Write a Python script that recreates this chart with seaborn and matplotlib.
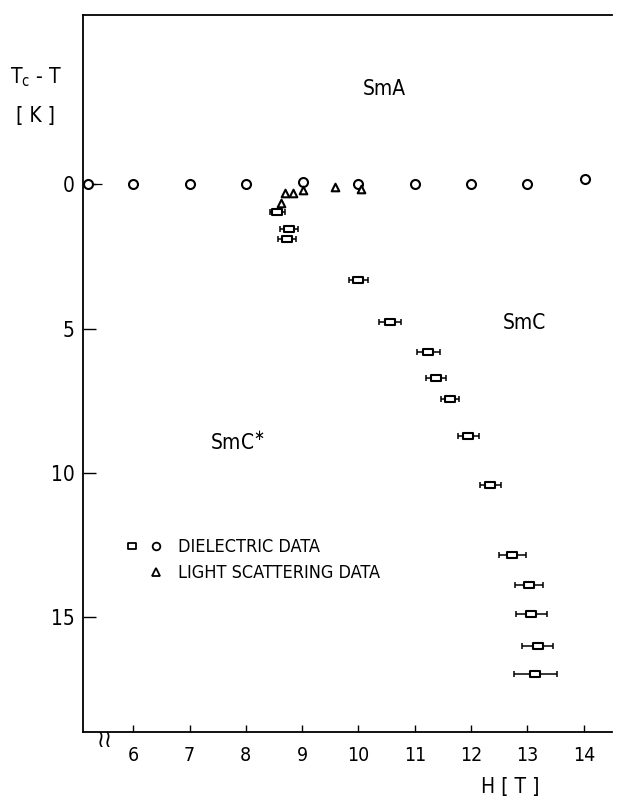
import numpy as np
import pandas as pd
import matplotlib
matplotlib.use("Agg")
import matplotlib.pyplot as plt
from matplotlib.lines import Line2D
from matplotlib.legend_handler import HandlerTuple
from matplotlib.path import Path
import seaborn as sns

# Dielectric data on the SmA boundary (circles)
circle_h = [5.2, 6.0, 7.0, 8.0, 9.02, 10.0, 11.0, 12.0, 13.0, 14.02]
circle_t = [0.0, 0.0, 0.0, 0.0, -0.1, 0.0, 0.0, 0.0, 0.0, -0.2]

# Light scattering data (triangles)
tri_h = [8.63, 8.70, 8.84, 9.02, 9.59, 10.05]
tri_t = [0.63, 0.31, 0.31, 0.21, 0.10, 0.17]

# Dielectric data on the SmC*/SmC boundary (squares with field error bars)
sq_h = [8.56, 8.77, 8.73, 10.0, 10.56, 11.24, 11.38, 11.63, 11.95, 12.34,
        12.73, 13.02, 13.07, 13.18, 13.14]
sq_t = [0.94, 1.53, 1.91, 3.33, 4.76, 5.83, 6.70, 7.43, 8.72, 10.42,
        12.85, 13.89, 14.9, 16.0, 17.0]
sq_herr = [0.13, 0.16, 0.16, 0.17, 0.19, 0.20, 0.18, 0.16, 0.19, 0.19,
           0.24, 0.25, 0.28, 0.28, 0.38]

x_ticks = [6, 7, 8, 9, 10, 11, 12, 13, 14]
y_ticks = [0, 5, 10, 15]

sns.set_theme(style="ticks")
plt.rcParams["font.family"] = ["DejaVu Sans"]
plt.rcParams["font.stretch"] = "condensed"
plt.rcParams["text.color"] = "black"
plt.rcParams["axes.labelcolor"] = "black"
plt.rcParams["xtick.color"] = "black"
plt.rcParams["ytick.color"] = "black"

fig = plt.figure(figsize=(6.2, 7.99), dpi=100)
ax = fig.add_axes([0.134, 0.0839, 0.853, 0.897])

# Open rectangle marker, wider than tall
rect = Path([(-1.4, -1), (1.4, -1), (1.4, 1), (-1.4, 1), (-1.4, -1)],
            [Path.MOVETO, Path.LINETO, Path.LINETO, Path.LINETO, Path.CLOSEPOLY])

circles = pd.DataFrame({"H": circle_h, "T": circle_t})
tris = pd.DataFrame({"H": tri_h, "T": tri_t})

sns.scatterplot(data=circles, x="H", y="T", ax=ax, marker="o", s=42,
                facecolor="white", edgecolor="black", linewidth=1.5, zorder=3)
sns.scatterplot(data=tris, x="H", y="T", ax=ax, marker="^", s=30,
                facecolor="white", edgecolor="black", linewidth=1.5, zorder=3)

# short tail on the lowest-field circle
ax.errorbar([circle_h[0]], [circle_t[0]], xerr=[[0], [0.25]], fmt="none",
            ecolor="black", elinewidth=0.9, capsize=0, zorder=2)

ax.errorbar(sq_h, sq_t, xerr=sq_herr, fmt="none", ecolor="black",
            elinewidth=1.1, capsize=2.5, capthick=1.1, zorder=2)
ax.scatter(sq_h, sq_t, marker=rect, s=42, facecolor="white",
           edgecolor="black", linewidth=1.5, zorder=3)

ax.set_xlim(5.11, 14.5)
ax.set_ylim(19.0, -5.87)
ax.set_xticks(x_ticks)
ax.set_xticklabels([str(v) for v in x_ticks])
ax.set_yticks(y_ticks)
ax.set_yticklabels([str(v) for v in y_ticks])
ax.tick_params(axis="x", direction="in", length=5, width=1.0, pad=10,
               labelsize=14)
ax.tick_params(axis="y", direction="in", length=9, width=1.0, pad=6,
               labelsize=15)
ax.set_xlabel("")
ax.set_ylabel("")

for side in ["left", "bottom", "top"]:
    ax.spines[side].set_color("black")
    ax.spines[side].set_linewidth(1.3)
ax.spines["right"].set_visible(False)

# axis break on the field axis
ax.text(5.5, 19.28, "\u2240\u2240", ha="center", va="center", fontsize=17,
        color="black", clip_on=False)

# phase labels
ax.text(10.45, -3.3, "SmA", ha="center", va="center", fontsize=15)
ax.text(12.95, 4.8, "SmC", ha="center", va="center", fontsize=15)
ax.text(7.85, 8.96, "SmC$^{\\ast}$", ha="center", va="center", fontsize=15)

# axis titles
fig.text(36 / 620, 1 - 77 / 799, "T$_{\\rm c}$ - T", ha="center", va="center",
         fontsize=15)
fig.text(35 / 620, 1 - 116 / 799, "[ K ]", ha="center", va="center",
         fontsize=15)
fig.text(510 / 620, 1 - 787 / 799, "H [ T ]", ha="center", va="center",
         fontsize=15)

# legend
blank = Line2D([], [], linestyle="none", marker=None)
h_sq = Line2D([], [], linestyle="none", marker=rect, markersize=5.5,
              markerfacecolor="white", markeredgecolor="black", markeredgewidth=1.3)
h_ci = Line2D([], [], linestyle="none", marker="o", markersize=5.5,
              markerfacecolor="white", markeredgecolor="black", markeredgewidth=1.3)
h_tr = Line2D([], [], linestyle="none", marker="^", markersize=5.5,
              markerfacecolor="white", markeredgecolor="black", markeredgewidth=1.3)
ax.legend([(h_sq, h_ci), (blank, h_tr)],
          ["DIELECTRIC DATA", "LIGHT SCATTERING DATA"],
          handler_map={tuple: HandlerTuple(ndivide=None, pad=0.6)},
          loc="upper left", bbox_to_anchor=(126 / 620, 1 - 538 / 799),
          bbox_transform=fig.transFigure, frameon=False, fontsize=13,
          handlelength=2.0, handletextpad=0.9, labelspacing=0.45,
          borderpad=0, borderaxespad=0, labelcolor="black")

fig.savefig("out.png", dpi=100, facecolor="white")
